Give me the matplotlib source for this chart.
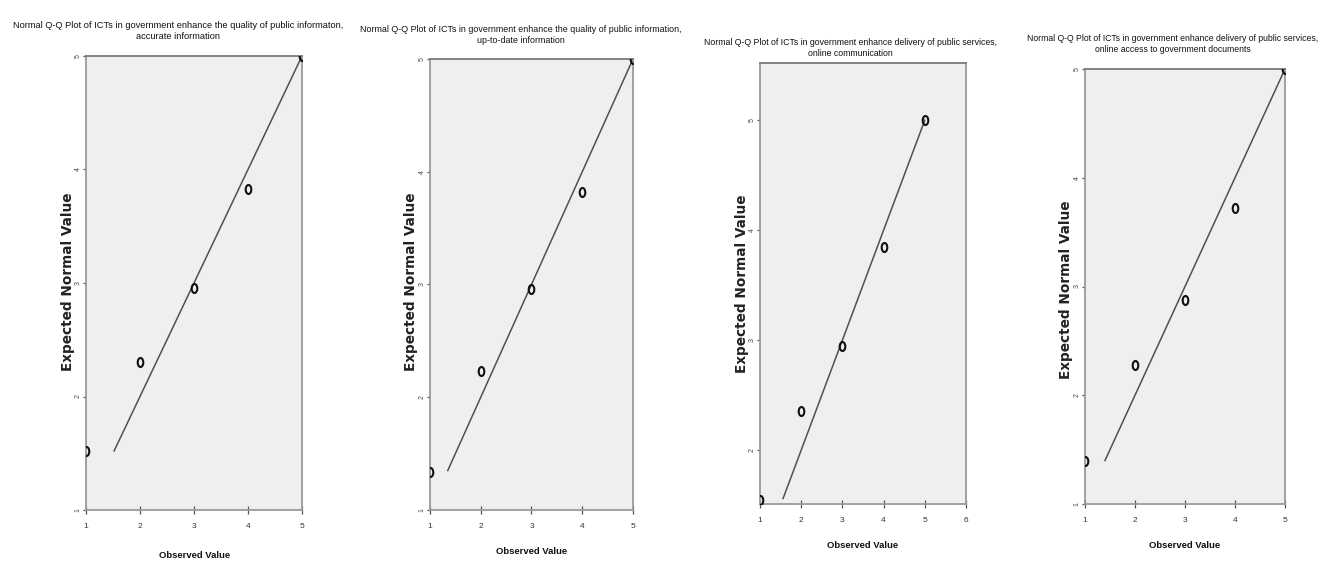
import matplotlib
matplotlib.use("Agg")
import matplotlib.pyplot as plt
from matplotlib.path import Path
from matplotlib.transforms import Affine2D

W, H = 1320, 561

titles = [
    "Normal Q-Q Plot of ICTs in government enhance the quality of public informaton,\naccurate information",
    "Normal Q-Q Plot of ICTs in government enhance the quality of public information,\nup-to-date information",
    "Normal Q-Q Plot of ICTs in government enhance delivery of public services,\nonline communication",
    "Normal Q-Q Plot of ICTs in government enhance delivery of public services,\nonline access to government documents",
]

observed = [1, 2, 3, 4, 5]
expected_1 = [1.52, 2.30, 2.96, 3.83, 5.00]
expected_2 = [1.34, 2.23, 2.96, 3.82, 5.00]
expected_3 = [1.55, 2.36, 2.95, 3.85, 5.00]
expected_4 = [1.40, 2.28, 2.88, 3.72, 5.00]
expected = [expected_1, expected_2, expected_3, expected_4]

line_start = [1.52, 1.35, 1.56, 1.40]
line_end = [5.0, 5.0, 5.0, 5.0]

x_ticks = [[1, 2, 3, 4, 5], [1, 2, 3, 4, 5], [1, 2, 3, 4, 5, 6], [1, 2, 3, 4, 5]]
y_ticks = [[1, 2, 3, 4, 5], [1, 2, 3, 4, 5], [2, 3, 4, 5], [1, 2, 3, 4, 5]]
x_lims = [(1, 5), (1, 5), (1, 6), (1, 5)]
y_lims = [(1, 5), (1, 5), (1.51, 5.52), (1, 5)]

# layout in pixels (left, right, top, bottom)
boxes = [(86, 302, 56, 510), (430, 633, 59, 510), (760, 966, 63, 504), (1085, 1285, 69, 504)]
title_pos = [(178, 31, 6.7), (521, 35, 6.4), (850, 48, 6.35), (1173, 44, 6.2)]
xlabel_pos = [(195, 555), (532, 552), (863, 545), (1185, 545)]
ylabel_pos = [(68, 282), (411, 282), (742, 284), (1066, 290)]

sans = ['Liberation Sans', 'DejaVu Sans']

ell = Path.unit_circle().transformed(Affine2D().scale(0.62, 1.0))

fig = plt.figure(figsize=(W / 100, H / 100), dpi=100)
fig.patch.set_facecolor('white')

for i in range(4):
    l, r, t, b = boxes[i]
    ax = fig.add_axes([l / W, 1 - b / H, (r - l) / W, (b - t) / H])
    ax.set_facecolor('#efefef')
    for s in ax.spines.values():
        s.set_color('#9a9a9a')
        s.set_linewidth(1.3)
    ax.spines['top'].set_color('#7a7a7a')
    ax.plot([line_start[i], line_end[i]], [line_start[i], line_end[i]],
            color='#505050', lw=1.1, zorder=2)
    ax.plot(observed, expected[i], linestyle='none', marker=ell, markersize=6.5,
            markerfacecolor='none', markeredgecolor='#111111', markeredgewidth=1.5,
            zorder=3)
    ax.set_xlim(*x_lims[i])
    ax.set_ylim(*y_lims[i])
    ax.set_xticks(x_ticks[i])
    ax.set_yticks(y_ticks[i])
    ax.tick_params(axis='x', direction='inout', length=6, width=0.9, color='#555555',
                   labelsize=6, labelcolor='#333333', pad=6)
    ax.tick_params(axis='y', direction='out', length=2.5, width=0.9, color='#555555',
                   labelsize=5, labelcolor='#444444', pad=0.5)
    for lab in ax.get_xticklabels():
        lab.set_family(sans)
    for lab in ax.get_yticklabels():
        lab.set_family(sans)
        lab.set_rotation(90)
        lab.set_va('center')

    tx, ty, fs = title_pos[i]
    fig.text(tx / W, 1 - ty / H, titles[i], ha='center', va='center',
             multialignment='center', fontsize=fs, family=sans, color='#111111',
             linespacing=1.25)
    xx, xy = xlabel_pos[i]
    fig.text(xx / W, 1 - xy / H, "Observed Value", ha='center', va='center',
             fontsize=6.8, family=sans, fontweight='bold', color='#111111')
    yx, yy = ylabel_pos[i]
    fig.text(yx / W, 1 - yy / H, "Expected Normal Value", ha='center', va='center',
             rotation=90, fontsize=9.8, family=['DejaVu Sans'], fontweight='bold',
             color='#222222')

fig.savefig('out.png', dpi=100)
